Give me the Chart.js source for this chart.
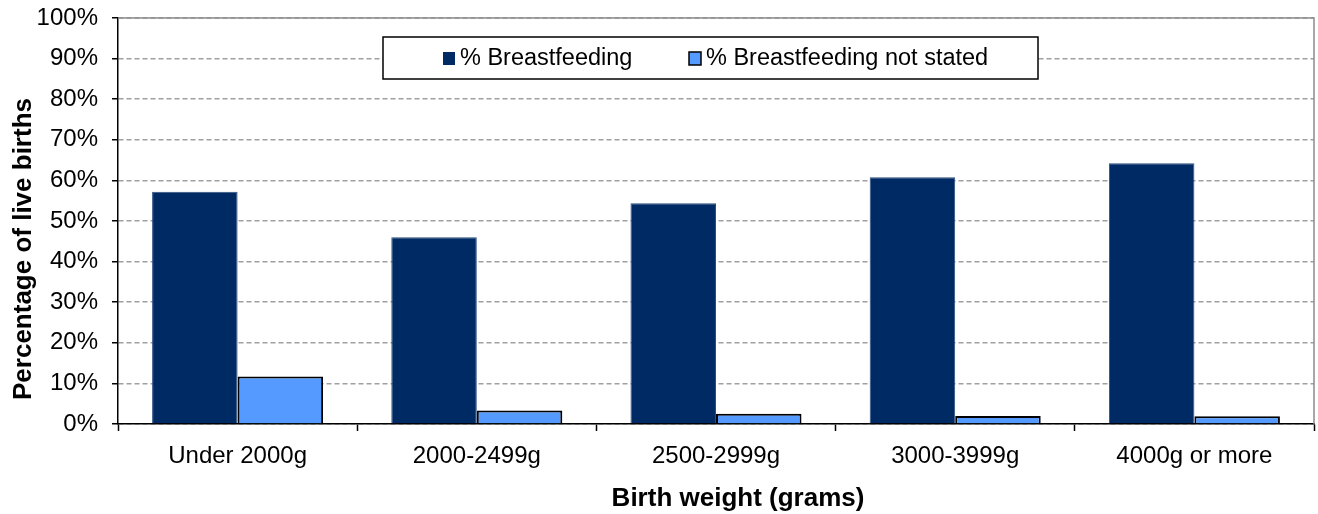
<!DOCTYPE html>
<html>
<head>
<meta charset="utf-8">
<script src="https://cdn.jsdelivr.net/npm/chart.js@4.4.0/dist/chart.umd.min.js"></script>
<style>
  html, body { margin: 0; padding: 0; background: #fff; }
  #wrap { width: 1318px; height: 514px; }
</style>
</head>
<body>
<div id="wrap"><canvas id="chart" width="1318" height="514"></canvas></div>
<script>
const categories = ["Under 2000g", "2000-2499g", "2500-2999g", "3000-3999g", "4000g or more"];
const breastfeeding = [57.2, 46.0, 54.4, 60.8, 64.2];
const notStated = [11.7, 3.3, 2.5, 2.0, 1.9];
const seriesNames = ["% Breastfeeding", "% Breastfeeding not stated"];
const xTitle = "Birth weight (grams)";
const yTitle = "Percentage of live births";

const FONT = "'Liberation Sans', Arial, sans-serif";

// gray frame on top/right of plot, axis titles, boxed legend inside the plot
const framePlugin = {
    id: "frame",
    afterDraw(c) {
        const ctx = c.ctx;
        const a = c.chartArea;
        ctx.save();
        ctx.strokeStyle = "#8c8c8c";
        ctx.lineWidth = 1.5;
        ctx.beginPath();
        ctx.moveTo(a.left, a.top);
        ctx.lineTo(a.right, a.top);
        ctx.lineTo(a.right, a.bottom);
        ctx.stroke();

        // axis titles (offset like the original, not centred on the axis)
        ctx.fillStyle = "#000";
        ctx.font = "bold 26px " + FONT;
        ctx.textAlign = "center";
        ctx.textBaseline = "middle";
        ctx.fillText(xTitle, 738, 499);
        ctx.save();
        ctx.translate(24, 249);
        ctx.rotate(-Math.PI / 2);
        ctx.fillText(yTitle, 0, 0);
        ctx.restore();

        // legend box
        const bx = 383, by = 37, bw = 655, bh = 42;
        ctx.fillStyle = "#fff";
        ctx.fillRect(bx, by, bw, bh);
        ctx.strokeStyle = "#000";
        ctx.lineWidth = 1.5;
        ctx.strokeRect(bx, by, bw, bh);

        ctx.font = "23.5px " + FONT;
        ctx.textAlign = "left";
        ctx.textBaseline = "middle";
        const my = by + bh / 2 + 1;
        const items = [
            { x: 443, ds: c.data.datasets[0] },
            { x: 689, ds: c.data.datasets[1] }
        ];
        items.forEach(it => {
            ctx.fillStyle = it.ds.backgroundColor;
            ctx.fillRect(it.x, my - 7, 12, 13);
            if (it.ds.borderWidth > 1) {
                ctx.strokeStyle = "#000";
                ctx.lineWidth = 1.5;
                ctx.strokeRect(it.x, my - 7, 12, 13);
            }
            ctx.fillStyle = "#000";
            ctx.fillText(it.ds.label, it.x + 17, my);
        });
        ctx.restore();
    }
};

new Chart(document.getElementById("chart"), {
    type: "bar",
    data: {
        labels: categories,
        datasets: [
            {
                label: seriesNames[0],
                data: breastfeeding,
                backgroundColor: "#002A64",
                borderColor: "#2c4f80",
                borderWidth: 1,
                categoryPercentage: 0.715,
                barPercentage: 1
            },
            {
                label: seriesNames[1],
                data: notStated,
                backgroundColor: "#559BFF",
                borderColor: "#000",
                borderWidth: 2,
                categoryPercentage: 0.715,
                barPercentage: 1
            }
        ]
    },
    options: {
        responsive: false,
        animation: false,
        layout: { padding: { top: 18, right: 4, left: 0, bottom: 0 } },
        plugins: {
            legend: { display: false },
            tooltip: { enabled: false }
        },
        scales: {
            x: {
                grid: {
                    offset: true,
                    drawOnChartArea: false,
                    tickLength: 7,
                    tickColor: "#000",
                    tickWidth: 1.5
                },
                border: { color: "#000", width: 1.5 },
                ticks: {
                    color: "#000",
                    font: { family: FONT, size: 24 },
                    padding: 11
                },
                afterFit(s) { s.height = 90; }
            },
            y: {
                min: 0,
                max: 100,
                ticks: {
                    stepSize: 10,
                    color: "#000",
                    font: { family: FONT, size: 24 },
                    padding: 14,
                    callback: v => v + "%"
                },
                grid: {
                    color: "#a0a0a0",
                    lineWidth: 1.5,
                    tickLength: 6,
                    tickColor: "#000",
                    tickWidth: 1.5
                },
                border: { color: "#000", width: 1.5, dash: [5, 3] },
                afterFit(s) {
                    s.width = 118;
                    s.paddingTop = 0;
                    s.paddingBottom = 0;
                }
            }
        }
    },
    plugins: [framePlugin]
});
</script>
</body>
</html>
